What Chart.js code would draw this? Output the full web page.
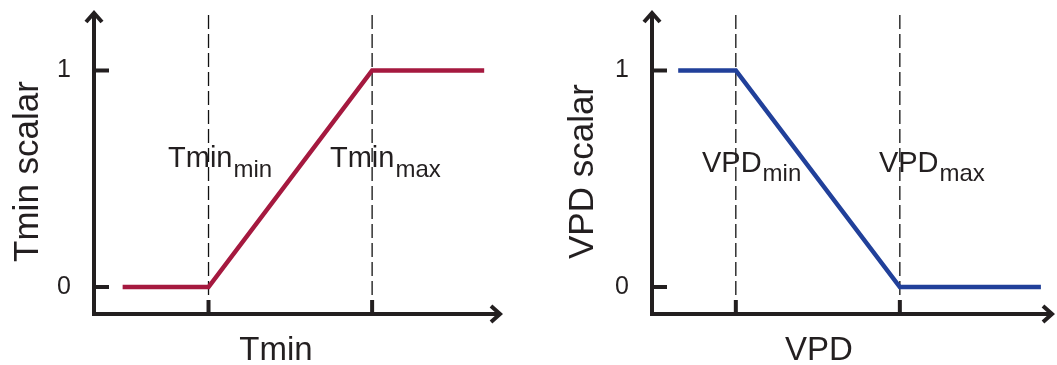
<!DOCTYPE html>
<html><head><meta charset="utf-8">
<script src="https://cdn.jsdelivr.net/npm/chart.js@4.4.0/dist/chart.umd.min.js"></script>
<style>
html,body{margin:0;padding:0;background:#fff;width:1057px;height:365px;overflow:hidden}
.wrap{position:absolute;top:0;height:365px;width:520px}
#w1{left:0}
#w2{left:537px}
</style></head><body>
<div class="wrap" id="w1"><canvas id="c1" width="520" height="365"></canvas></div>
<div class="wrap" id="w2"><canvas id="c2" width="520" height="365"></canvas></div>
<script>
// ---- data ----
const tminX = [7, 28, 68, 95.4];
const tminY = [0, 0, 1, 1];
const vpdX = [6.5, 20.8, 61.5, 96.5];
const vpdY = [1, 1, 0, 0];
const tminThresholds = [28, 68];
const vpdThresholds = [20.8, 61.5];
const yTicks = [0, 1];
const tminThresholdLabels = [["Tmin", "min"], ["Tmin", "max"]];
const vpdThresholdLabels = [["VPD", "min"], ["VPD", "max"]];
const tminLabelX = [18.1, 57.7];
const vpdLabelX = [12.4, 56.3];
const tminLabelY = 0.554;
const vpdLabelY = 0.531;
const tminTitleX = "Tmin", tminTitleY = "Tmin scalar";
const vpdTitleX = "VPD", vpdTitleY = "VPD scalar";
const xRange = [0, 100];
const yRange = [-0.1247, 1.2794];
const dashTop = 1.262;

const INK = '#231f20';
const FONT = '"Liberation Sans", Arial, Helvetica, sans-serif';
Chart.defaults.font.family = FONT;
Chart.defaults.color = INK;

const axisPlugin = {
  id: 'arrowAxes',
  afterDatasetsDraw(chart) {
    const o = chart.options.plugins.arrowAxes;
    const {ctx, chartArea: a, scales: {x, y}} = chart;
    ctx.save();
    ctx.strokeStyle = INK;
    ctx.lineWidth = 4;
    ctx.lineCap = 'butt';
    ctx.lineJoin = 'miter';
    // axis lines
    ctx.beginPath(); ctx.moveTo(a.left, a.bottom + 2); ctx.lineTo(a.left, a.top + 3); ctx.stroke();
    ctx.beginPath(); ctx.moveTo(a.left - 2, a.bottom); ctx.lineTo(a.right - 3, a.bottom); ctx.stroke();
    // arrowheads
    ctx.beginPath(); ctx.moveTo(a.left - 8, a.top + 12); ctx.lineTo(a.left, a.top + 3); ctx.lineTo(a.left + 8, a.top + 12); ctx.stroke();
    ctx.beginPath(); ctx.moveTo(a.right - 12, a.bottom - 8); ctx.lineTo(a.right - 3, a.bottom); ctx.lineTo(a.right - 12, a.bottom + 8); ctx.stroke();
    // y tick marks (inward)
    yTicks.forEach(v => {
      const py = y.getPixelForValue(v);
      ctx.beginPath(); ctx.moveTo(a.left, py); ctx.lineTo(a.left + 15, py); ctx.stroke();
    });
    // x tick marks at thresholds
    o.thresholds.forEach(t => {
      const px = x.getPixelForValue(t);
      ctx.beginPath(); ctx.moveTo(px, a.bottom); ctx.lineTo(px, a.bottom - 14); ctx.stroke();
    });
    // threshold labels with subscripts
    ctx.fillStyle = INK;
    ctx.textAlign = 'left';
    ctx.textBaseline = 'alphabetic';
    o.labels.forEach((lab, i) => {
      const px = x.getPixelForValue(o.labelX[i]);
      const py = y.getPixelForValue(o.labelY);
      ctx.font = '29px ' + FONT;
      ctx.fillText(lab[0], px, py);
      const w = ctx.measureText(lab[0]).width;
      ctx.font = '24px ' + FONT;
      ctx.fillText(lab[1], px + w + 1, py + o.subDrop);
    });
    // axis titles
    ctx.font = '33px ' + FONT;
    ctx.textAlign = 'center';
    ctx.fillText(o.titleX, x.getPixelForValue(o.titleXPos), 360);
    ctx.save();
    ctx.translate(o.titleYBase, 171.5);
    ctx.rotate(-Math.PI / 2);
    ctx.font = '35px ' + FONT;
    ctx.fillText(o.titleY, 0, 0);
    ctx.restore();
    ctx.restore();
  }
};

function makeChart(id, xs, ys, color, thresholds, labels, labelX, labelY, yAxisW, padRight, titleX, titleY, titleXPos, titleYBase, subDrop) {
  const datasets = [{
    data: xs.map((v, i) => ({x: v, y: ys[i]})),
    borderColor: color, borderWidth: 4.5, pointRadius: 0, tension: 0,
    borderJoinStyle: 'miter', borderCapStyle: 'butt', order: 0, clip: false
  }];
  thresholds.forEach(t => datasets.push({
    data: [{x: t, y: yRange[0]}, {x: t, y: dashTop}],
    borderColor: '#111111', borderWidth: 1.3, borderDash: [14, 5], pointRadius: 0, order: 1, clip: false
  }));
  return new Chart(document.getElementById(id), {
    type: 'line',
    data: {datasets},
    options: {
      responsive: false, animation: false,
      layout: {padding: {top: 10, right: padRight, left: 0, bottom: 0}},
      plugins: {
        legend: {display: false}, tooltip: {enabled: false},
        arrowAxes: {thresholds, labels, labelX, labelY, titleX, titleY, titleXPos, titleYBase, subDrop}
      },
      scales: {
        x: {type: 'linear', min: xRange[0], max: xRange[1],
            grid: {display: false, drawTicks: false}, border: {display: false},
            ticks: {display: false},
            afterFit(s) { s.height = 51; s.paddingLeft = 0; s.paddingRight = 0; s.paddingTop = 0; s.paddingBottom = 0; }},
        y: {type: 'linear', min: yRange[0], max: yRange[1],
            grid: {display: false, drawTicks: false}, border: {display: false},
            afterBuildTicks(s) { s.ticks = yTicks.map(v => ({value: v})); },
            ticks: {padding: 23, font: {size: 25}, color: INK},
            afterFit(s) { s.width = yAxisW; s.paddingTop = 0; s.paddingBottom = 0; s.paddingLeft = 0; s.paddingRight = 0; }}
      }
    },
    plugins: [axisPlugin]
  });
}

makeChart('c1', tminX, tminY, '#a5193f', tminThresholds, tminThresholdLabels, tminLabelX, tminLabelY,
          94, 17, tminTitleX, tminTitleY, 44.5, 38, 10);
makeChart('c2', vpdX, vpdY, '#21409a', vpdThresholds, vpdThresholdLabels, vpdLabelX, vpdLabelY,
          115, 2, vpdTitleX, vpdTitleY, 41.4, 56, 9);
</script>
</body></html>
